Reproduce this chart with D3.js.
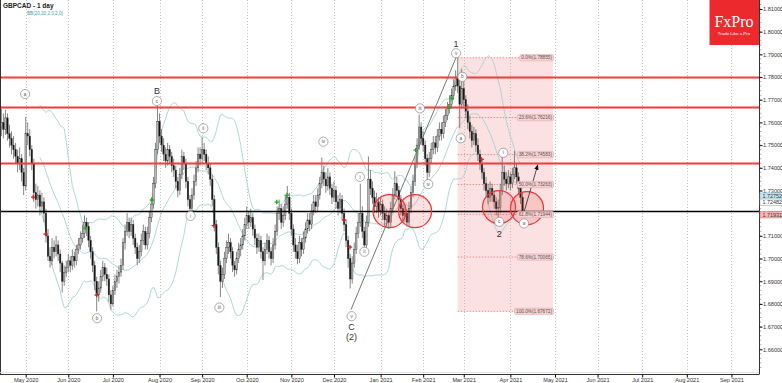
<!DOCTYPE html>
<html>
<head>
<meta charset="utf-8">
<script src="https://cdn.jsdelivr.net/npm/d3@7"></script>
<style>
body { margin: 0; background: #fff; }
svg { display: block; font-family: "Liberation Sans", Arial, sans-serif; }
</style>
</head>
<body>
<svg width="782" height="383"></svg>
<script>
// daily bars, GBPCAD, from mid April 2020 (bar 0) to April 2021
var firstOpen = 1.7580;
var closes = [1.7600,1.7570,1.7620,1.7550,1.7530,1.7500,1.7480,1.7450,1.7420,1.7440,
1.7380,1.7320,1.7550,1.7540,1.7480,1.7420,1.7290,1.7260,1.7280,1.7230,
1.7250,1.7200,1.7100,1.7010,1.6990,1.7050,1.7030,1.7060,1.7020,1.6980,
1.6900,1.6940,1.6960,1.6990,1.6970,1.7010,1.6990,1.7040,1.7060,1.7090,
1.7110,1.7160,1.7140,1.7080,1.7030,1.6970,1.6900,1.6840,1.6870,1.6920,
1.6960,1.6930,1.6910,1.6840,1.6800,1.6860,1.6900,1.6920,1.6940,1.6970,
1.7070,1.7120,1.7160,1.7120,1.7150,1.7090,1.7050,1.7000,1.7030,1.7080,
1.7120,1.7060,1.7110,1.7180,1.7240,1.7330,1.7480,1.7605,1.7540,1.7500,
1.7460,1.7430,1.7480,1.7450,1.7410,1.7390,1.7340,1.7300,1.7370,1.7450,
1.7420,1.7340,1.7260,1.7220,1.7280,1.7340,1.7400,1.7460,1.7440,1.7480,
1.7460,1.7420,1.7400,1.7350,1.7260,1.7150,1.7050,1.6970,1.6900,1.6930,
1.7000,1.7050,1.7070,1.7030,1.6970,1.6950,1.7000,1.7040,1.7060,1.7100,
1.7150,1.7190,1.7160,1.7180,1.7130,1.7090,1.7050,1.7080,1.7030,1.6990,
1.7040,1.7080,1.7030,1.7000,1.7060,1.7120,1.7200,1.7220,1.7160,1.7190,
1.7240,1.7270,1.7200,1.7130,1.7060,1.7030,1.7000,1.7070,1.7040,1.7090,
1.7130,1.7170,1.7150,1.7210,1.7250,1.7230,1.7280,1.7330,1.7380,1.7350,
1.7320,1.7360,1.7310,1.7270,1.7300,1.7250,1.7220,1.7260,1.7200,1.7150,
1.7080,1.7000,1.6910,1.6980,1.7040,1.7110,1.7160,1.7200,1.7120,1.7060,
1.7160,1.7350,1.7310,1.7270,1.7230,1.7250,1.7210,1.7240,1.7200,1.7170,
1.7190,1.7160,1.7220,1.7280,1.7330,1.7300,1.7260,1.7220,1.7190,1.7200,
1.7160,1.7220,1.7290,1.7340,1.7420,1.7500,1.7580,1.7530,1.7500,1.7440,
1.7380,1.7440,1.7480,1.7510,1.7490,1.7540,1.7570,1.7550,1.7600,1.7630,
1.7660,1.7680,1.7720,1.7760,1.7800,1.7760,1.7680,1.7750,1.7700,1.7650,
1.7600,1.7560,1.7520,1.7550,1.7500,1.7460,1.7420,1.7380,1.7330,1.7300,
1.7270,1.7310,1.7280,1.7250,1.7220,1.7225,1.7300,1.7380,1.7350,1.7330,
1.7360,1.7330,1.7370,1.7400,1.7360,1.7310,1.7270,1.7193];
var highs = [1.7660,1.7640,1.7655,1.7640,1.7590,1.7560,1.7540,1.7510,1.7480,1.7490,
1.7460,1.7400,1.7625,1.7600,1.7570,1.7500,1.7440,1.7330,1.7320,1.7300,
1.7290,1.7270,1.7220,1.7130,1.7050,1.7090,1.7080,1.7100,1.7080,1.7040,
1.6990,1.6970,1.6990,1.7020,1.7010,1.7040,1.7030,1.7060,1.7090,1.7120,
1.7150,1.7190,1.7180,1.7160,1.7100,1.7050,1.6990,1.6920,1.6900,1.6950,
1.6990,1.6980,1.6960,1.6930,1.6860,1.6880,1.6930,1.6950,1.6970,1.7000,
1.7090,1.7150,1.7200,1.7180,1.7180,1.7170,1.7110,1.7070,1.7060,1.7110,
1.7150,1.7140,1.7140,1.7210,1.7270,1.7360,1.7510,1.7685,1.7640,1.7570,
1.7530,1.7490,1.7510,1.7500,1.7470,1.7440,1.7410,1.7360,1.7400,1.7480,
1.7470,1.7440,1.7360,1.7280,1.7310,1.7370,1.7430,1.7490,1.7490,1.7535,
1.7510,1.7480,1.7450,1.7420,1.7370,1.7280,1.7170,1.7070,1.6990,1.6960,
1.7030,1.7080,1.7110,1.7090,1.7050,1.6990,1.7030,1.7070,1.7090,1.7130,
1.7180,1.7230,1.7210,1.7220,1.7200,1.7150,1.7110,1.7110,1.7100,1.7050,
1.7070,1.7110,1.7100,1.7050,1.7090,1.7150,1.7230,1.7260,1.7240,1.7230,
1.7280,1.7320,1.7290,1.7220,1.7150,1.7090,1.7060,1.7100,1.7090,1.7120,
1.7160,1.7200,1.7200,1.7240,1.7280,1.7280,1.7310,1.7360,1.7445,1.7410,
1.7380,1.7400,1.7380,1.7330,1.7340,1.7320,1.7280,1.7290,1.7280,1.7220,
1.7170,1.7100,1.7020,1.7010,1.7070,1.7140,1.7200,1.7330,1.7230,1.7140,
1.7190,1.7450,1.7390,1.7340,1.7300,1.7290,1.7270,1.7270,1.7260,1.7230,
1.7220,1.7210,1.7250,1.7310,1.7385,1.7360,1.7320,1.7280,1.7240,1.7230,
1.7220,1.7250,1.7320,1.7370,1.7450,1.7530,1.7635,1.7600,1.7560,1.7520,
1.7460,1.7470,1.7510,1.7540,1.7540,1.7570,1.7600,1.7600,1.7630,1.7660,
1.7690,1.7720,1.7750,1.7790,1.7830,1.78855,1.7790,1.7835,1.7780,1.7720,
1.7680,1.7630,1.7590,1.7580,1.7570,1.7530,1.7480,1.7440,1.7400,1.7360,
1.7330,1.7340,1.7330,1.7300,1.7270,1.7260,1.7330,1.7455,1.7410,1.7380,
1.7390,1.7380,1.7400,1.7475,1.7420,1.7380,1.7330,1.7290];
var lows = [1.7540,1.7530,1.7545,1.7520,1.7490,1.7460,1.7440,1.7420,1.7380,1.7390,
1.7340,1.7280,1.7300,1.7500,1.7450,1.7390,1.7250,1.7220,1.7230,1.7190,
1.7200,1.7160,1.7070,1.6990,1.6960,1.6970,1.7000,1.7010,1.6990,1.6940,
1.6850,1.6880,1.6920,1.6940,1.6940,1.6950,1.6960,1.6970,1.7020,1.7040,
1.7070,1.7090,1.7100,1.7050,1.7000,1.6940,1.6860,1.6767,1.6810,1.6850,
1.6900,1.6900,1.6880,1.6810,1.6775,1.6790,1.6840,1.6870,1.6890,1.6920,
1.6950,1.7040,1.7100,1.7090,1.7100,1.7060,1.7020,1.6970,1.6980,1.7010,
1.7060,1.7040,1.7040,1.7090,1.7160,1.7220,1.7310,1.7460,1.7510,1.7470,
1.7430,1.7400,1.7410,1.7420,1.7380,1.7360,1.7310,1.7270,1.7280,1.7350,
1.7390,1.7310,1.7230,1.7210,1.7200,1.7260,1.7320,1.7380,1.7410,1.7420,
1.7430,1.7390,1.7370,1.7320,1.7230,1.7120,1.7020,1.6930,1.6830,1.6870,
1.6910,1.6980,1.7020,1.7000,1.6940,1.6920,1.6930,1.6980,1.7010,1.7040,
1.7080,1.7130,1.7130,1.7140,1.7100,1.7060,1.7020,1.7030,1.7000,1.6905,
1.6970,1.7020,1.7000,1.6970,1.6980,1.7040,1.7100,1.7170,1.7130,1.7140,
1.7170,1.7220,1.7170,1.7100,1.7030,1.7000,1.6975,1.6980,1.7010,1.7020,
1.7070,1.7110,1.7120,1.7130,1.7190,1.7200,1.7210,1.7260,1.7310,1.7320,
1.7290,1.7300,1.7280,1.7240,1.7250,1.7220,1.7190,1.7200,1.7170,1.7120,
1.7050,1.6960,1.6868,1.6890,1.6960,1.7020,1.7090,1.7140,1.7090,1.7035,
1.7040,1.7140,1.7280,1.7240,1.7200,1.7200,1.7180,1.7190,1.7170,1.7140,
1.7140,1.7130,1.7140,1.7200,1.7260,1.7270,1.7230,1.7190,1.7160,1.7160,
1.7140,1.7140,1.7200,1.7270,1.7320,1.7400,1.7480,1.7500,1.7470,1.7410,
1.7340,1.7360,1.7420,1.7460,1.7460,1.7470,1.7520,1.7520,1.7530,1.7580,
1.7610,1.7640,1.7660,1.7700,1.7740,1.7730,1.7575,1.7660,1.7670,1.7620,
1.7570,1.7530,1.7490,1.7500,1.7470,1.7430,1.7390,1.7350,1.7300,1.7270,
1.7240,1.7250,1.7250,1.7220,1.7190,1.7180,1.7200,1.7280,1.7320,1.7300,
1.7310,1.7300,1.7310,1.7350,1.7330,1.7280,1.7240,1.7185];

// time axis: bar index of the first trading day of each month
var monthIdx = [12,33,55,78,99,121,143,164,187,208,228,251,273,294,316,338,360];
var monthLabels = ["May 2020","Jun 2020","Jul 2020","Aug 2020","Sep 2020","Oct 2020","Nov 2020","Dec 2020",
  "Jan 2021","Feb 2021","Mar 2021","Apr 2021","May 2021","Jun 2021","Jul 2021","Aug 2021","Sep 2021"];
var yTicks = [1.66,1.67,1.68,1.69,1.70,1.71,1.72,1.73,1.74,1.75,1.76,1.77,1.78,1.79,1.80,1.81];

// drawn levels
var redLevels = [1.7798, 1.7666, 1.7419];
var blackLevel = 1.7207;
var fibHigh = 1.78855, fibLow = 1.67672, fibFrom = 225, fibTo = 272;
var fibLevels = [0, 23.6, 38.2, 50, 61.8, 78.6, 100];

// annotations [bar index, price]
var waveLabels = [["a",11.7,1.7725],["b",47.2,1.6737],["c",76.7,1.7694],["i",93.3,1.7188],["ii",99.6,1.7574],
  ["iii",107.5,1.6784],["iv",158.8,1.7515],["v",172.7,1.6746],["i",176.8,1.7360],["ii",179,1.7030],
  ["iii",206.4,1.7662],["iv",210.5,1.7328],["v",224.2,1.7905],["b",227.3,1.7801],["a",226.5,1.7530],
  ["i",247.5,1.7466],["c",245.5,1.7162],["a",257.7,1.7155]];
var bigLabels = [["B",76.7,1.7738],["C",172.7,1.6700],["(2)",172.7,1.6656],["1",224.2,1.7946],["2",245.5,1.7110]];
var greenMarks = [[41.3,1.7134],[74.3,1.7258],[135.8,1.7249],[140.8,1.7280],[204.3,1.7478],[220.7,1.7668],[222.1,1.7706]];
var redMarks = [[15.7,1.7271],[21.8,1.7108],[47.0,1.6839],[104.8,1.7145],[169.0,1.7170],[171.9,1.7050],[236.8,1.7437]];
var zones = [[191.4,1.7209],[204.0,1.7209],[245.4,1.7227],[259.2,1.7222]];
var trend = [[172.4,1.6775],[224.4,1.7890]];
var arrow = [[257,1.7183],[264.5,1.7413]];
var priceTags = [["1.72752",1.72752,"#c4e6f0","#7ab8cc"],["1.72482",1.72482,"#ffffff","#999999"],["1.71931",1.71931,"#f6b8b8","#d95c5c"]];

var plotR = 759, plotB = 374;
var x = d3.scaleLinear().domain([0, 374]).range([1.36, 1.36 + 374 * 2.028]);
var y = d3.scaleLinear().domain([1.66, 1.81]).range([349.3, 9]);
var fmt5 = d3.format(".5f");

var svg = d3.select("svg");
svg.append("defs").append("clipPath").attr("id", "clip")
  .append("rect").attr("width", plotR).attr("height", plotB);
svg.select("defs").append("marker").attr("id", "head").attr("viewBox", "0 0 10 10")
  .attr("refX", 9).attr("refY", 5).attr("markerWidth", 7).attr("markerHeight", 7).attr("orient", "auto")
  .append("path").attr("d", "M0,1L10,5L0,9Z").attr("fill", "#111");

var g = svg.append("g").attr("clip-path", "url(#clip)");

// fibo box
g.append("rect").attr("x", x(fibFrom)).attr("y", y(fibHigh))
  .attr("width", x(fibTo) - x(fibFrom)).attr("height", y(fibLow) - y(fibHigh))
  .attr("fill", "#fbe1e1");

// month grid
g.selectAll(".grid").data(monthIdx).enter().append("line")
  .attr("x1", function(d) { return Math.round(x(d)) + 0.5; })
  .attr("x2", function(d) { return Math.round(x(d)) + 0.5; })
  .attr("y1", 0).attr("y2", plotB)
  .attr("stroke", "#b4b4b4").attr("stroke-width", 0.8).attr("stroke-dasharray", "1,2");

// fibo levels
fibLevels.forEach(function(l) {
  var p = fibHigh - (fibHigh - fibLow) * l / 100;
  g.append("line").attr("x1", x(fibFrom)).attr("x2", x(fibTo) - 14)
    .attr("y1", y(p)).attr("y2", y(p))
    .attr("stroke", "#e06a6a").attr("stroke-width", 0.7).attr("stroke-dasharray", "1.5,1.5");
});

// bollinger 20,2
var bb = [];
closes.forEach(function(c, i) {
  if (i < 19) return;
  var w = closes.slice(i - 19, i + 1), m = d3.mean(w);
  var sd = Math.sqrt(d3.mean(w, function(v) { return (v - m) * (v - m); }));
  bb.push({ i: i, m: m, u: m + 2 * sd, l: m - 2 * sd });
});
["u", "m", "l"].forEach(function(k) {
  g.append("path").datum(bb)
    .attr("d", d3.line().x(function(d) { return x(d.i); }).y(function(d) { return y(d[k]); }))
    .attr("fill", "none").attr("stroke", "#a6d3d3").attr("stroke-width", 0.9);
});

// trend line
g.append("line").attr("x1", x(trend[0][0])).attr("y1", y(trend[0][1]))
  .attr("x2", x(trend[1][0])).attr("y2", y(trend[1][1]))
  .attr("stroke", "#555").attr("stroke-width", 0.8);

// candles
var bars = closes.map(function(c, i) {
  return { i: i, o: i ? closes[i - 1] : firstOpen, h: highs[i], l: lows[i], c: c };
});
var cg = g.selectAll(".bar").data(bars).enter().append("g");
cg.append("line")
  .attr("x1", function(d) { return x(d.i); }).attr("x2", function(d) { return x(d.i); })
  .attr("y1", function(d) { return y(d.h); }).attr("y2", function(d) { return y(d.l); })
  .attr("stroke", "#666").attr("stroke-width", 0.8);
cg.append("rect")
  .attr("x", function(d) { return x(d.i) - 0.75; }).attr("width", 1.5)
  .attr("y", function(d) { return y(Math.max(d.o, d.c)); })
  .attr("height", function(d) { return Math.max(0.6, Math.abs(y(d.o) - y(d.c))); })
  .attr("fill", function(d) { return d.c >= d.o ? "#b8b8b8" : "#111"; })
  .attr("stroke", "#333").attr("stroke-width", 0.4);

// horizontal levels
redLevels.forEach(function(p) {
  g.append("line").attr("x1", 0).attr("x2", plotR).attr("y1", y(p)).attr("y2", y(p))
    .attr("stroke", "#f23b3b").attr("stroke-width", 2);
});
g.append("line").attr("x1", 0).attr("x2", plotR).attr("y1", y(blackLevel)).attr("y2", y(blackLevel))
  .attr("stroke", "#000").attr("stroke-width", 1.5);

// zones
g.selectAll(".zone").data(zones).enter().append("circle")
  .attr("cx", function(d) { return x(d[0]); }).attr("cy", function(d) { return y(d[1]); })
  .attr("r", 16.5).attr("fill", "rgba(240,60,60,0.16)").attr("stroke", "#ef3535").attr("stroke-width", 1.2);

// arrow
g.append("line").attr("x1", x(arrow[0][0])).attr("y1", y(arrow[0][1]))
  .attr("x2", x(arrow[1][0])).attr("y2", y(arrow[1][1]))
  .attr("stroke", "#222").attr("stroke-width", 0.8).attr("marker-end", "url(#head)");

// signal crosses
function cross(data, color) {
  g.selectAll(null).data(data).enter().append("path")
    .attr("transform", function(d) { return "translate(" + x(d[0]) + "," + y(d[1]) + ")"; })
    .attr("d", "M-2.2,0H2.2M0,-2.2V2.2").attr("stroke", color).attr("stroke-width", 1.3);
}
cross(greenMarks, "#1faa1f");
cross(redMarks, "#d42020");

// wave labels
var wl = g.selectAll(".wl").data(waveLabels).enter().append("g")
  .attr("transform", function(d) { return "translate(" + x(d[1]) + "," + y(d[2]) + ")"; });
wl.append("circle").attr("r", 4.6).attr("fill", "#fff").attr("stroke", "#8a8a8a").attr("stroke-width", 0.7);
wl.append("text").text(function(d) { return d[0]; })
  .attr("text-anchor", "middle").attr("dy", "0.35em").attr("font-size", 4.6).attr("fill", "#555");
g.selectAll(".bl").data(bigLabels).enter().append("text")
  .attr("x", function(d) { return x(d[1]); }).attr("y", function(d) { return y(d[2]); })
  .attr("text-anchor", "middle").attr("dy", "0.35em").attr("font-size", 9).attr("fill", "#333")
  .text(function(d) { return d[0]; });

// fibo labels
fibLevels.forEach(function(l) {
  var p = fibHigh - (fibHigh - fibLow) * l / 100;
  var t = g.append("text").attr("x", 552).attr("y", y(p)).attr("dy", "0.35em")
    .attr("text-anchor", "end").attr("font-size", 4.7).attr("fill", "#555")
    .text(d3.format(".1f")(l) + "%(" + fmt5(p) + ")");
  var w = t.node().getComputedTextLength();
  g.insert("rect", function() { return t.node(); })
    .attr("x", 552 - w - 1.5).attr("y", y(p) - 3.2).attr("width", w + 3).attr("height", 6.4)
    .attr("rx", 1.5).attr("fill", "#f7d2d2").attr("stroke", "#e2a0a0").attr("stroke-width", 0.5);
});

// logo
var logo = svg.append("g");
logo.append("rect").attr("x", 709.5).attr("y", 0).attr("width", 49.5).attr("height", 45).attr("fill", "#ec2a2e");
logo.append("text").attr("x", 734).attr("y", 27).attr("text-anchor", "middle")
  .attr("font-family", "'Liberation Serif','DejaVu Serif',serif").attr("font-size", 16).attr("fill", "#fff").text("FxPro");
logo.append("text").attr("x", 734).attr("y", 34.5).attr("text-anchor", "middle")
  .attr("font-size", 4.4).attr("fill", "#fff").text("Trade Like a Pro");

// frame
svg.append("line").attr("x1", 0.5).attr("x2", 0.5).attr("y1", 0).attr("y2", plotB).attr("stroke", "#333");

// y axis
var ya = svg.append("g").attr("transform", "translate(" + (plotR + 0.5) + ",0)")
  .call(d3.axisRight(y).tickValues(yTicks).tickSize(3).tickFormat(fmt5));
ya.select(".domain").attr("d", "M0,0V" + plotB).attr("stroke", "#333");
ya.selectAll("text").attr("font-size", 5.6).attr("fill", "#333").attr("x", 3.5);
ya.selectAll(".minor").data(d3.range(1.652, 1.814, 0.002)).enter().append("line")
  .attr("x1", 0).attr("x2", 1.8).attr("y1", function(d) { return y(d); }).attr("y2", function(d) { return y(d); })
  .attr("stroke", "#555").attr("stroke-width", 0.5);

// price tags
var pt = svg.selectAll(".tag").data(priceTags).enter().append("g")
  .attr("transform", function(d) { return "translate(" + (plotR + 1) + "," + y(d[1]) + ")"; });
pt.append("rect").attr("x", 0).attr("y", -3.2).attr("width", 22.5).attr("height", 6.4)
  .attr("fill", function(d) { return d[2]; }).attr("stroke", function(d) { return d[3]; }).attr("stroke-width", 0.5);
pt.append("text").attr("x", 2.5).attr("dy", "0.35em").attr("font-size", 5.4).attr("fill", "#333")
  .text(function(d) { return d[0]; });

// x axis
var xa = svg.append("g").attr("transform", "translate(0," + (plotB + 0.5) + ")")
  .call(d3.axisBottom(x).tickValues(monthIdx).tickSize(3)
    .tickFormat(function(d, k) { return monthLabels[k]; }));
xa.select(".domain").attr("d", "M0,0H" + (plotR + 0.5)).attr("stroke", "#333");
xa.selectAll("text").attr("font-size", 5.6).attr("fill", "#333").attr("y", 3.5);
svg.append("line").attr("x1", 0).attr("x2", plotR).attr("y1", plotB - 1.5).attr("y2", plotB - 1.5)
  .attr("stroke", "#dcdcdc").attr("stroke-width", 0.8);

// title
svg.append("text").attr("x", 3).attr("y", 7.5).attr("font-size", 6.5).attr("font-weight", "bold")
  .attr("fill", "#222").text("GBPCAD - 1 day");
svg.append("text").attr("x", 27).attr("y", 14.5).attr("font-size", 4.6)
  .attr("fill", "#4aa0a0").text("BB(20,20,2,0,2,0)");
</script>
</body>
</html>
